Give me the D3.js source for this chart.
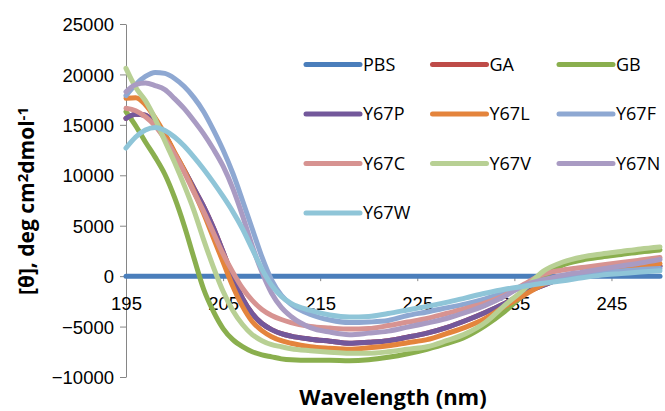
<!DOCTYPE html>
<html>
<head>
<meta charset="utf-8">
<script src="https://cdn.jsdelivr.net/npm/d3@7"></script>
<style>
  body { margin: 0; background: #fff; }
  svg { display: block; font-family: "Open Sans", sans-serif; }
  .axis path, .axis line { stroke: #868686; }
  .axis text { font-size: 18.5px; fill: #000; }
</style>
</head>
<body>
<svg id="chart"></svg>
<script>
let wavelengths = [195, 196, 197, 198, 199, 200, 201, 202, 203, 204, 205, 206, 207, 208, 209, 210, 211, 212,
  214, 216, 218, 220, 222, 224, 226, 228, 230, 232, 234, 236, 238, 240, 242, 244, 246, 248, 250];

let pbs = wavelengths.map(() => 0);
let y67p = [15640, 16050, 15950, 15100, 14000, 12200, 10500, 8700, 6900, 4800, 2400, -100, -2200, -3700, -4700, -5300, -5700, -5950,
  -6250, -6450, -6650, -6550, -6400, -6050, -5650, -5100, -4400, -3600, -2700, -1700, -900, -200, 200, 450, 650, 850, 1000];
let ga = y67p.slice();
let gb = [16300, 14900, 13300, 11800, 10100, 7800, 5000, 1800, -1300, -3500, -5200, -6300, -7000, -7500, -7800, -8000, -8200, -8300,
  -8350, -8350, -8400, -8300, -8050, -7700, -7250, -6700, -6000, -4900, -3500, -1800, -100, 1100, 1600, 1900, 2150, 2400, 2600];
let y67l = [17630, 17700, 17000, 15700, 14100, 12300, 10500, 8400, 6200, 3800, 1400, -1000, -3000, -4500, -5400, -6000, -6400, -6650,
  -7000, -7150, -7250, -7100, -6900, -6600, -6300, -5700, -5050, -4200, -3000, -1900, -800, -100, 200, 400, 650, 950, 1250];
let y67f = [17900, 19000, 19800, 20200, 20100, 19600, 18800, 17700, 16300, 14500, 12500, 10200, 7500, 4700, 1900, -400, -1900, -2800,
  -3800, -4350, -4600, -4550, -4400, -3900, -3550, -3150, -2750, -2250, -1650, -1100, -400, -100, 150, 350, 500, 650, 750];
let y67c = [16640, 16400, 15800, 14900, 13600, 12100, 10300, 8300, 6400, 4300, 2200, 400, -1200, -2400, -3300, -3900, -4300, -4600,
  -5000, -5150, -5250, -5200, -4900, -4550, -4200, -3700, -3200, -2650, -1900, -800, 200, 600, 850, 1100, 1350, 1600, 1850];
let y67v = [20600, 18700, 17400, 15600, 13400, 11300, 9000, 6500, 3600, 900, -1500, -3400, -4800, -5800, -6400, -6800, -7000, -7200,
  -7400, -7550, -7650, -7650, -7500, -7250, -7000, -6400, -5700, -4600, -2900, -1300, 500, 1400, 1900, 2200, 2450, 2700, 2900];
let y67n = [18280, 19000, 19150, 18900, 18500, 17600, 16600, 15400, 14100, 12600, 10900, 8700, 6000, 3000, 400, -1700, -3100, -4000,
  -5100, -5550, -5800, -5650, -5450, -5050, -4650, -4200, -3600, -2900, -2000, -900, -350, 100, 400, 700, 1000, 1300, 1650];
let y67w = [12700, 13800, 14500, 14750, 14450, 13800, 12900, 11800, 10600, 9300, 7900, 6400, 4700, 2700, 700, -900, -2000, -2700,
  -3400, -3850, -4050, -4000, -3700, -3350, -3000, -2600, -2150, -1700, -1300, -1000, -700, -450, -150, 100, 250, 400, 530];

let seriesNames = ['PBS', 'GA', 'GB', 'Y67P', 'Y67L', 'Y67F', 'Y67C', 'Y67V', 'Y67N', 'Y67W'];
let seriesValues = [pbs, ga, gb, y67p, y67l, y67f, y67c, y67v, y67n, y67w];
let colors = ['#4A7EBB', '#BE4B48', '#8AAF4E', '#73589B', '#E4843C', '#8EA8D2', '#D79391', '#B8D094', '#A99BC3', '#8FC5D8'];

let xTicks = [195, 205, 215, 225, 235, 245];
let yTicks = [-10000, -5000, 0, 5000, 10000, 15000, 20000, 25000];

let width = 665;
let height = 411;

let svg = d3.select('#chart').attr('width', width).attr('height', height);

let xScale = d3.scaleLinear().domain([195, 250]).range([126, 660]);
let yScale = d3.scaleLinear().domain([-10000, 25000]).range([377, 24]);

// axes
svg.append('g').
  attr('class', 'axis').
  attr('transform', 'translate(126, 0)').
  call(d3.axisLeft(yScale).tickValues(yTicks).tickSize(6).tickSizeOuter(0).tickPadding(6).tickFormat(d3.format('d'))).
  call(g => g.selectAll('text').attr('dy', '0.36em'));

svg.append('g').
  attr('class', 'axis').
  attr('transform', 'translate(0, ' + yScale(0) + ')').
  call(d3.axisBottom(xScale).tickValues(xTicks).tickSize(5).tickSizeOuter(0).tickPadding(16));

// curves
let line = d3.line().
  x((d, i) => xScale(wavelengths[i])).
  y(d => yScale(d)).
  curve(d3.curveMonotoneX);

svg.append('g').selectAll('path').
  data(seriesValues).
  enter().
  append('path').
  attr('d', d => line(d)).
  attr('fill', 'none').
  attr('stroke', (d, i) => colors[i]).
  attr('stroke-width', 5).
  attr('stroke-linecap', 'round').
  attr('stroke-linejoin', 'round');

// legend, 3 columns
let legend = svg.append('g').selectAll('g').
  data(seriesNames).
  enter().
  append('g').
  attr('transform', (d, i) => 'translate(' + (306 + (i % 3) * 126.5) + ', ' + (64.5 + Math.floor(i / 3) * 49.5) + ')');

legend.append('line').
  attr('x1', 0).attr('x2', 54).
  attr('stroke', (d, i) => colors[i]).
  attr('stroke-width', 5).
  attr('stroke-linecap', 'round');

legend.append('text').
  attr('x', 57).
  attr('dy', '0.36em').
  style('font-size', '18px').
  text(d => d);

// axis titles
svg.append('text').
  attr('x', 393).
  attr('y', 405).
  attr('text-anchor', 'middle').
  style('font-size', '22px').
  style('font-weight', 'bold').
  text('Wavelength (nm)');

let yTitle = svg.append('text').
  attr('transform', 'translate(34, 201) rotate(-90)').
  attr('text-anchor', 'middle').
  style('font-size', '21px').
  style('font-weight', 'bold');
yTitle.append('tspan').text('[θ], deg cm');
yTitle.append('tspan').attr('baseline-shift', '38%').style('font-size', '15px').text('2');
yTitle.append('tspan').text('dmol');
yTitle.append('tspan').attr('baseline-shift', '38%').style('font-size', '15px').text('-1');
</script>
</body>
</html>
